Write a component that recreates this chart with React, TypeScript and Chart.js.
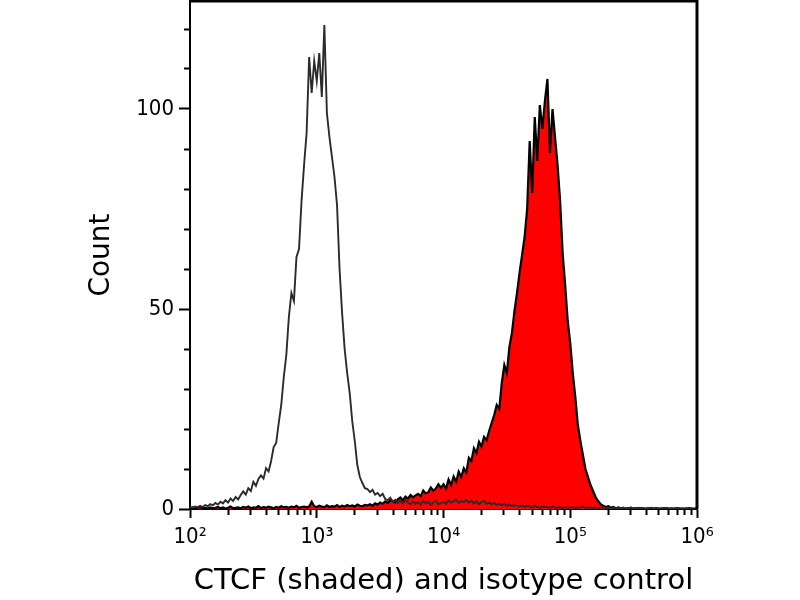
import React, { useEffect, useRef } from "react";
import { Chart, registerables } from "chart.js";

Chart.register(...registerables);

// histogram channels: log10 of fluorescence, first bin and bin width
const BIN_START = 2;
const BIN_WIDTH = 0.02;

// isotype control (grey outline)
const isotypeCounts = [
  0.5, 0.3, 0.6, 0.4, 0.8, 0.5, 1.0, 0.7, 1.2, 0.9,
  1.5, 1.1, 1.8, 1.4, 2.2, 1.6, 2.6, 2.0, 3.0, 2.4,
  3.5, 4.4, 3.6, 5.2, 4.5, 6.8, 5.8, 7.5, 8.4, 7.6,
  10.2, 9.4, 12.0, 15.5, 16.5, 21.5, 26.0, 33.0, 38.5, 48.0,
  54, 52, 63, 65, 77, 86, 94, 113, 104, 112,
  107, 114, 103, 121, 99, 93, 88, 83, 76, 60,
  49, 40, 34, 29, 22, 17, 11, 8, 6.5, 5.2,
  5.0, 4.2, 4.8, 3.6, 4.0, 3.2, 3.8, 2.5, 2.2, 2.8,
  1.8, 2.3, 1.5, 2.0, 1.4, 2.2, 1.6, 1.2, 1.9, 1.3,
  1.7, 1.1, 2.0, 1.4, 1.8, 1.0, 1.6, 2.1, 1.2, 1.5,
  1.8, 1.3, 2.2, 1.6, 1.9, 2.4, 1.5, 2.0, 1.7, 2.3,
  1.6, 2.1, 1.4, 1.9, 1.2, 1.7, 2.0, 1.3, 1.6, 1.1,
  1.5, 1.0, 1.3, 0.9, 1.2, 0.8, 1.1, 0.7, 1.0, 0.8,
  0.6, 0.9, 0.5, 0.8, 0.6, 0.4, 0.7, 0.5, 0.3, 0.6,
  0.4, 0.5, 0.3, 0.6, 0.4, 0.3, 0.5, 0.2, 0.4, 0.3,
  0.3, 0.5, 0.2, 0.4, 0.3, 0.6, 0.2, 0.4, 0.3, 0.2,
  0.4, 0.2, 0.3, 0.5, 0.2, 0.3, 0.1, 0.4, 0.2, 0.3,
  0.2, 0.3, 0.1, 0.2, 0.4, 0.1, 0.2, 0.3, 0.1, 0.2,
  0.1, 0.2, 0.3, 0.1, 0.2, 0.1, 0.2, 0.1, 0.3, 0.1,
  0.2, 0.1, 0.1, 0.2, 0.1, 0.1, 0.2, 0.1, 0.1, 0.1, 0.1,
];

// CTCF stained (red, black outline)
const ctcfCounts = [
  0.2, 0.4, 0.1, 0.3, 0.5, 0.2, 0.3, 0.1, 0.4, 0.2,
  0.3, 0.5, 0.2, 0.4, 0.1, 0.3, 0.6, 0.2, 0.3, 0.4,
  0.2, 0.5, 0.3, 0.6, 0.2, 0.4, 0.3, 0.7, 0.2, 0.5,
  0.3, 0.6, 0.4, 0.2, 0.5, 0.3, 0.7, 0.4, 0.5, 0.3,
  0.6, 0.4, 0.8, 0.3, 0.5, 0.6, 0.4, 0.6, 1.8, 0.7,
  0.5, 0.8, 0.6, 0.4, 0.9, 0.5, 0.7, 0.6, 1.0, 0.5,
  0.8, 0.6, 1.0, 0.7, 0.9, 0.6, 1.1, 0.8, 0.7, 1.0,
  0.9, 1.2, 0.8, 1.4, 1.1, 1.6, 1.3, 1.9, 1.5, 2.2,
  2.0, 1.6, 2.4, 2.9, 2.2, 3.1, 2.6, 3.5, 2.9, 3.4,
  3.8, 3.2, 4.6, 3.9, 4.2, 5.4, 4.6, 5.1, 6.2, 5.3,
  6.2, 5.1, 7.4, 6.0, 8.1, 6.8, 9.3, 8.0, 10.2, 9.1,
  12.8, 12.0, 15.2, 14.0, 16.8, 15.6, 18.0, 17.2, 19.5, 21.5,
  23.5, 26.0, 25.0, 31.5, 36.0, 34.0, 40.5, 44.0, 49.5, 54.0,
  59, 63.5, 68, 75, 92, 79, 98, 87, 101, 95,
  102, 107.5, 89, 100, 93, 86, 77, 64, 56, 47,
  41.5, 34, 28, 21, 17, 13.5, 10, 8, 6, 4.5,
  3, 2, 1.2, 0.8, 0.5, 0.7, 0.3, 0.5, 0.2, 0.4,
  0.2, 0.3, 0.1, 0.2, 0.3, 0.1, 0.2, 0.1, 0.2, 0.1,
  0.1, 0.2, 0.1, 0.1, 0.2, 0.1, 0.1, 0.2, 0.1, 0.1,
  0.1, 0.1, 0.2, 0.1, 0.1, 0.1, 0.1, 0.2, 0.1, 0.1, 0.1,
];

const decadeLabels = ["10²", "10³", "10⁴", "10⁵", "10⁶"];
const minorMultipliers = [2, 3, 4, 5, 6, 7, 8, 9];
const countTicks = [0, 10, 20, 30, 40, 50, 60, 70, 80, 90, 100, 110, 120];
const countLabels = [0, 50, 100];

const X_TITLE = "CTCF (shaded) and isotype control";
const Y_TITLE = "Count";

const TICK_FONT = "'DejaVu Sans Condensed', 'DejaVu Sans', sans-serif";
const TITLE_FONT = "'DejaVu Sans', sans-serif";

const toPoints = (counts: number[]) =>
  counts.map((y, i) => ({ x: BIN_START + i * BIN_WIDTH, y }));

// decades and log-spaced minor ticks between them
const xTickValues: number[] = [];
decadeLabels.forEach((_, d) => {
  xTickValues.push(BIN_START + d);
  if (d < decadeLabels.length - 1) {
    minorMultipliers.forEach((m) => xTickValues.push(BIN_START + d + Math.log10(m)));
  }
});

const framePlugin = {
  id: "frame",
  afterDatasetsDraw(chart: Chart) {
    const { ctx, chartArea } = chart;
    ctx.save();
    ctx.strokeStyle = "#000";
    ctx.lineWidth = 3;
    ctx.beginPath();
    ctx.moveTo(chartArea.left, chartArea.top);
    ctx.lineTo(chartArea.right, chartArea.top);
    ctx.lineTo(chartArea.right, chartArea.bottom);
    ctx.stroke();
    ctx.restore();
  },
};

export default function App() {
  const canvasEl = useRef<HTMLCanvasElement>(null);

  useEffect(() => {
    if (!canvasEl.current) return;
    const ctx = canvasEl.current.getContext("2d");
    if (!ctx) return;

    const chart = new Chart(ctx, {
      type: "line",
      data: {
        datasets: [
          {
            label: "CTCF",
            data: toPoints(ctcfCounts),
            borderColor: "#000000",
            borderWidth: 2.2,
            backgroundColor: "#ff0000",
            fill: "origin",
            pointRadius: 0,
            tension: 0,
            order: 2,
          },
          {
            label: "Isotype control",
            data: toPoints(isotypeCounts),
            borderColor: "#2b2b2b",
            borderWidth: 1.9,
            fill: false,
            pointRadius: 0,
            tension: 0,
            order: 1,
          },
        ],
      },
      options: {
        responsive: false,
        animation: false,
        layout: { padding: { top: 1, right: 103, bottom: 0, left: 0 } },
        plugins: {
          legend: { display: false },
          tooltip: { enabled: false },
        },
        scales: {
          x: {
            type: "linear",
            min: 2,
            max: 6,
            afterBuildTicks: (scale: any) => {
              scale.ticks = xTickValues.map((value) => ({ value }));
            },
            afterFit: (scale: any) => {
              scale.height = 91;
              scale.paddingLeft = 0;
              scale.paddingRight = 0;
            },
            grid: {
              drawOnChartArea: false,
              drawTicks: true,
              tickLength: 9,
              tickColor: "#000",
              tickWidth: 2,
              tickBorderDash: (c: any) =>
                c.tick && Number.isInteger(c.tick.value) ? [] : [5, 100],
            },
            border: { display: true, color: "#000", width: 2 },
            ticks: {
              autoSkip: false,
              maxRotation: 0,
              padding: 6,
              color: "#000",
              font: { family: TICK_FONT, size: 22 },
              callback: (value: any) =>
                Number.isInteger(value) ? decadeLabels[value - BIN_START] : "",
            },
            title: {
              display: true,
              text: X_TITLE,
              color: "#000",
              font: { family: TITLE_FONT, size: 29 },
              padding: { top: 0, bottom: 1 },
            },
          },
          y: {
            type: "linear",
            min: 0,
            max: 127,
            afterBuildTicks: (scale: any) => {
              scale.ticks = countTicks.map((value) => ({ value }));
            },
            afterFit: (scale: any) => {
              scale.width = 190;
              scale.paddingTop = 0;
              scale.paddingBottom = 0;
            },
            grid: {
              drawOnChartArea: false,
              drawTicks: true,
              tickLength: 11,
              tickColor: "#000",
              tickWidth: 2,
              tickBorderDash: (c: any) =>
                c.tick && countLabels.includes(c.tick.value) ? [] : [0, 5, 6, 100],
            },
            border: { display: true, color: "#000", width: 2 },
            ticks: {
              padding: 5,
              color: "#000",
              font: { family: TICK_FONT, size: 22 },
              callback: (value: any) =>
                countLabels.includes(value) ? String(value) : "",
            },
            title: {
              display: true,
              text: Y_TITLE,
              color: "#000",
              font: { family: TITLE_FONT, size: 28 },
              padding: { top: 85, bottom: 0 },
            },
          },
        },
      },
      plugins: [framePlugin],
    });

    return () => {
      chart.destroy();
    };
  }, []);

  return (
    <div style={{ position: "absolute", left: 0, top: 0, width: 800, height: 600, background: "#fff" }}>
      <canvas ref={canvasEl} width={800} height={600} style={{ display: "block" }} />
    </div>
  );
}
